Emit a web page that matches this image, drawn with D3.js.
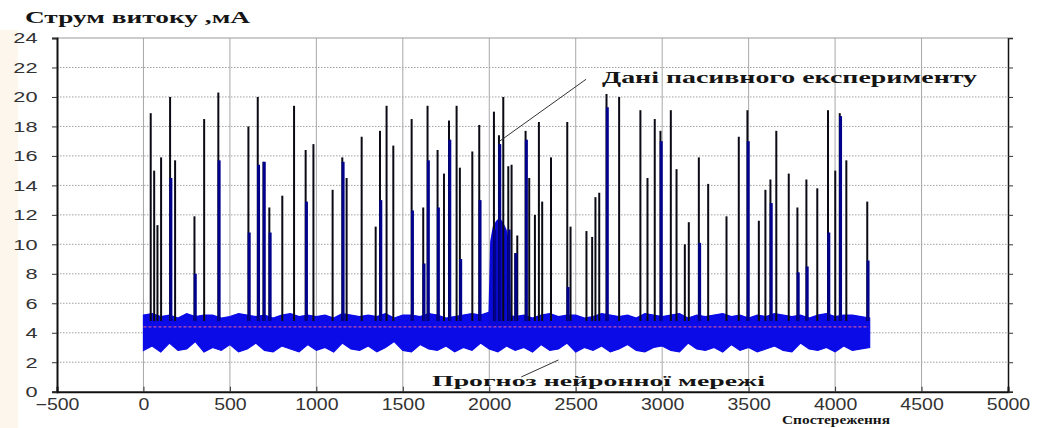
<!DOCTYPE html>
<html>
<head>
<meta charset="utf-8">
<script src="https://cdn.jsdelivr.net/npm/d3@7"></script>
<style>
  body { margin: 0; background: #fff; }
  svg { display: block; }
</style>
</head>
<body>
<div id="chart"></div>
<script>
// axis ticks
var xTicks = [-500, 0, 500, 1000, 1500, 2000, 2500, 3000, 3500, 4000, 4500, 5000];
var yTicks = [0, 2, 4, 6, 8, 10, 12, 14, 16, 18, 20, 22, 24];

// noise band of the measured series, read every 50 observations
var bandObs = d3.range(0, 4201, 50);
var bandHigh = [
  5.2,5.3,5.1,5.2,5.0,5.3,5.1,5.2,5.2,5.0,5.1,5.3,5.2,5.1,5.2,5.0,5.2,5.3,5.1,5.2,
  5.1,5.2,5.0,5.3,5.2,5.1,5.2,5.1,5.3,5.0,5.2,5.2,5.1,5.3,5.2,5.0,5.1,5.2,5.3,5.2,
  5.4,5.3,5.2,5.1,5.2,5.0,5.2,5.3,5.1,5.2,5.2,5.0,5.1,5.3,5.2,5.1,5.2,5.0,5.3,5.2,
  5.1,5.2,5.3,5.0,5.2,5.1,5.2,5.3,5.1,5.2,5.0,5.2,5.1,5.3,5.2,5.1,5.2,5.0,5.2,5.3,
  5.1,5.2,5.2,5.1,5.0
];
var bandLow = [
  2.8,3.1,2.7,3.3,2.8,2.9,3.4,2.7,3.0,2.8,3.2,2.7,2.9,3.3,2.8,2.7,3.1,2.9,2.7,3.2,
  2.8,3.0,2.7,3.3,2.9,2.8,3.1,2.7,3.0,3.4,2.8,2.7,3.2,2.9,2.8,3.1,2.7,3.0,2.8,3.3,
  2.9,2.7,3.1,2.8,3.0,2.7,3.2,2.8,2.9,3.3,2.7,3.0,2.8,3.1,2.7,2.9,3.2,2.8,2.7,3.0,
  3.1,2.8,2.7,3.3,2.9,2.8,3.0,2.7,3.2,2.8,3.0,2.7,2.9,3.1,2.8,2.7,3.3,2.9,2.8,3.0,
  2.7,3.1,2.8,2.9,3.0
];

// spikes: observation, peak value, height of the dark blue part (0 = none)
var spikeObs  = [42,62,81,102,154,183,295,351,433,607,661,694,728,803,871,938,983,1094,1150,1175,
  1262,1343,1368,1406,1445,1551,1618,1643,1701,1738,1767,1811,1830,1902,1942,2027,2056,2081,2110,2129,
  2150,2162,2210,2231,2264,2287,2306,2357,2451,2470,2562,2595,2614,2636,2678,2751,2874,2915,2957,2990,
  3050,3083,3131,3154,3212,3266,3372,3443,3493,3559,3597,3626,3660,3732,3782,3834,3897,3959,4001,4027,
  4065,4186];
var spikePeak = [18.9,15.0,11.3,15.9,20.0,15.7,11.9,18.5,20.3,18.0,20.0,15.6,12.5,13.3,19.4,16.4,16.8,13.7,15.9,14.5,
  17.3,11.2,17.7,19.4,16.7,18.5,12.5,19.4,16.4,14.8,18.4,19.4,15.2,16.3,18.1,19.0,17.4,20.0,15.3,15.4,
  9.4,10.6,17.7,14.5,12.0,18.3,12.9,15.9,18.3,11.2,10.9,10.5,13.2,13.5,20.2,20.0,19.1,14.5,18.5,17.7,
  19.1,15.1,10.0,11.5,15.9,14.1,11.9,17.3,19.1,11.6,13.7,14.4,17.7,14.8,12.5,14.4,13.8,19.1,15.0,18.9,
  15.7,12.9];
var spikeBlue = [0,0,0,0,14.5,0,8.0,0,15.7,10.8,15.4,15.6,10.8,0,0,12.9,0,0,15.6,0,
  0,0,13.0,0,0,12.3,8.7,15.7,12.5,0,17.1,0,9.0,0,13.0,11.0,16.8,0,11.0,0,
  9.4,0,17.1,0,0,0,0,0,7.1,0,0,0,0,0,19.3,0,0,0,0,17.0,
  0,0,0,0,10.1,0,0,0,17.0,0,0,12.8,0,0,8.1,8.5,0,10.8,0,18.7,
  0,8.9];

// wide blue mass around observation 2000
var massObs = [1995, 2005, 2020, 2040, 2060, 2080, 2100, 2115, 2125];
var massVal = [5.2, 10.2, 11.2, 11.6, 11.8, 11.5, 11.0, 10.2, 5.2];

// neural network forecast
var predObs = [0, 4195];
var predVal = [4.4, 4.4];

var W = 1041, H = 428;
var svg = d3.select("#chart").append("svg").attr("width", W).attr("height", H);

svg.append("rect").attr("width", W).attr("height", H).attr("fill", "#fff");
svg.append("rect").attr("x", 0).attr("y", 30).attr("width", 18).attr("height", 398).attr("fill", "#fcf6ec");

var x = d3.scaleLinear().domain([-500, 5000]).range([57, 1008]);
var y = d3.scaleLinear().domain([0, 24]).range([391.7, 38]);

// grid
svg.append("g").selectAll("line").data(yTicks.slice(1, -1)).join("line")
  .attr("x1", x(-500)).attr("x2", x(5000))
  .attr("y1", function(d) { return y(d); }).attr("y2", function(d) { return y(d); })
  .attr("stroke", "#a0a0a0").attr("stroke-width", 1).attr("stroke-dasharray", "1.5,1.5");
svg.append("g").selectAll("line").data(xTicks.slice(1, -1)).join("line")
  .attr("x1", function(d) { return x(d); }).attr("x2", function(d) { return x(d); })
  .attr("y1", y(24)).attr("y2", y(0))
  .attr("stroke", "#a8a8a8").attr("stroke-width", 1);

// noise band
var band = bandObs.map(function(o, i) { return { o: o, hi: bandHigh[i], lo: bandLow[i] }; });
svg.append("path").datum(band)
  .attr("d", d3.area().x(function(d) { return x(d.o); })
    .y0(function(d) { return y(d.lo); }).y1(function(d) { return y(d.hi); }))
  .attr("fill", "#0b0be8").attr("stroke", "#0b0be8").attr("stroke-width", 1.2);

// blue mass
var mass = massObs.map(function(o, i) { return { o: o, v: massVal[i] }; });
svg.append("path").datum(mass)
  .attr("d", d3.area().x(function(d) { return x(d.o); }).y0(y(4.5)).y1(function(d) { return y(d.v); }))
  .attr("fill", "#0a0ad8");

// spikes
var spikes = spikeObs.map(function(o, i) { return { o: o, p: spikePeak[i], b: spikeBlue[i] }; });
svg.append("g").selectAll("line").data(spikes).join("line")
  .attr("x1", function(d) { return x(d.o); }).attr("x2", function(d) { return x(d.o); })
  .attr("y1", y(4.8)).attr("y2", function(d) { return y(d.p); })
  .attr("stroke", "#0a0a14").attr("stroke-width", 2);
svg.append("g").selectAll("line").data(spikes.filter(function(d) { return d.b > 0; })).join("line")
  .attr("x1", function(d) { return x(d.o) + 0.8; }).attr("x2", function(d) { return x(d.o) + 0.8; })
  .attr("y1", y(4.8)).attr("y2", function(d) { return y(d.b); })
  .attr("stroke", "#00008c").attr("stroke-width", 3);

// forecast line
svg.append("path").datum(predObs.map(function(o, i) { return [o, predVal[i]]; }))
  .attr("d", d3.line().x(function(d) { return x(d[0]); }).y(function(d) { return y(d[1]); }))
  .attr("fill", "none").attr("stroke", "#e0609a").attr("stroke-width", 1.4)
  .attr("stroke-dasharray", "3,2").attr("opacity", 0.85);

// frame
svg.append("line").attr("x1", x(-500)).attr("x2", x(5000)).attr("y1", y(24)).attr("y2", y(24))
  .attr("stroke", "#999").attr("stroke-width", 1);

var xAxis = svg.append("g").attr("transform", "translate(0," + y(0) + ")")
  .call(d3.axisBottom(x).tickValues(xTicks).tickSize(-5).tickPadding(0).tickFormat(d3.format("d")));
var yAxis = svg.append("g").attr("transform", "translate(" + x(-500) + ",0)")
  .call(d3.axisLeft(y).tickValues(yTicks).tickSize(5).tickFormat(d3.format("d")));
var yRight = svg.append("g").attr("transform", "translate(" + x(5000) + ",0)")
  .call(d3.axisLeft(y).tickValues(yTicks).tickSize(-5).tickFormat(""));

[xAxis, yAxis, yRight].forEach(function(g) {
  g.select(".domain").attr("stroke", "#111").attr("stroke-width", 2);
  g.selectAll(".tick line").attr("stroke", "#333");
});
yRight.select(".domain").attr("stroke-width", 1.5);

xAxis.selectAll(".tick text")
  .attr("font-family", "'Liberation Sans', Arial, sans-serif").attr("font-size", 16)
  .attr("fill", "#333").attr("y", 18).attr("dy", 0)
  .attr("transform", "scale(1.22,1)");
yAxis.selectAll(".tick text")
  .attr("font-family", "'Liberation Sans', Arial, sans-serif").attr("font-size", 15)
  .attr("fill", "#333").attr("x", -19.5 / 1.45)
  .attr("transform", "scale(1.45,1)");

// labels
function label(txt, x0, x1, base, size) {
  svg.append("text").text(txt)
    .attr("x", x0).attr("y", base)
    .attr("textLength", x1 - x0).attr("lengthAdjust", "spacingAndGlyphs")
    .attr("font-family", "'Liberation Serif', 'Times New Roman', serif")
    .attr("font-weight", "bold").attr("font-size", size).attr("fill", "#151515");
}
label("Струм витоку ,мА", 25, 250, 23, 16);
label("Дані пасивного експерименту", 602, 977, 83, 16);
label("Прогноз нейронної мережі", 432, 765, 386, 15);
label("Спостереження", 782, 890, 424, 12);

// leader lines
svg.append("line").attr("x1", x(2560)).attr("y1", y(21.2)).attr("x2", x(2060)).attr("y2", y(17.0))
  .attr("stroke", "#333").attr("stroke-width", 1);
svg.append("line").attr("x1", x(2185)).attr("y1", y(1.0)).attr("x2", x(2400)).attr("y2", y(2.15))
  .attr("stroke", "#333").attr("stroke-width", 1);
</script>
</body>
</html>
